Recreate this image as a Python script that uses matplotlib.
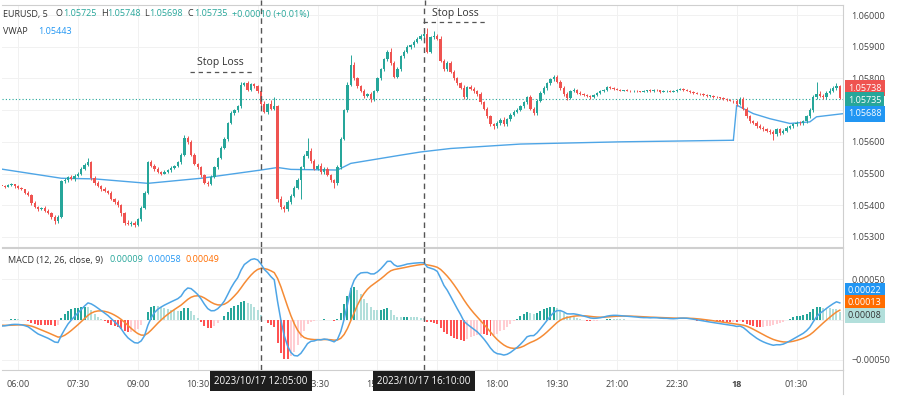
import numpy as np
import matplotlib
matplotlib.use('Agg')
import matplotlib.pyplot as plt
from matplotlib import transforms
from matplotlib.lines import Line2D

plt.rcParams['font.family'] = ['Open Sans', 'DejaVu Sans']

# EURUSD 5 min candles, bar 0 = 06:00, prices in points above 1.05000 (1 pt = 0.00001)
first_bar = -5
first_open_pts = 465
close_pts = [
    462, 458, 463, 466, 460,
    455, 450, 440, 432, 408, 395, 388, 392, 383, 376, 362, 350, 362, 475, 478, 488, 482, 492,
    500, 515, 528, 535, 485, 470, 460, 452, 445, 440, 420, 410, 400, 375, 345, 340, 345, 338,
    355, 390, 440, 535, 525, 515, 505, 500, 505, 510, 518, 525, 535, 560, 612, 600, 560, 530,
    520, 495, 470, 468, 490, 520, 550, 580, 610, 660, 690, 700, 712, 780, 785, 765, 782, 775,
    760, 720, 695, 720, 705, 712, 420, 395, 388, 410, 430, 455, 480, 520, 555, 570, 540, 515,
    525, 505, 515, 495, 480, 470, 520, 610, 700, 780, 842, 800, 775, 760, 745, 750, 735, 760,
    800, 830, 860, 885, 850, 805, 830, 870, 885, 900, 905, 915, 925, 935, 940, 885, 930, 935,
    925, 855, 830, 850, 820, 800, 785, 770, 740, 772, 768, 760, 750, 725, 705, 680, 655, 650,
    660, 670, 655, 672, 685, 695, 700, 712, 725, 740, 705, 690, 730, 755, 770, 785, 798, 805,
    790, 770, 750, 738, 760, 765, 755, 752, 748, 745, 740, 748, 755, 760, 765, 772, 770, 768,
    765, 762, 763, 762, 760, 761, 760, 758, 760, 763, 760, 765, 763, 758, 760, 762, 758, 760,
    765, 768, 765, 762, 757, 755, 752, 750, 748, 745, 745, 742, 740, 738, 735, 733, 730, 728,
    720, 735, 705, 680, 665, 660, 650, 645, 640, 635, 630, 625, 640, 628, 635, 645, 650, 655,
    660, 658, 665, 680, 700, 740, 752, 745, 740, 755, 762, 770, 775, 738,
]
wick_up = [
    4, 3, 5, 3, 2,
    3, 4, 2, 5, 3, 6, 4, 3, 5, 4, 3, 6, 8, 4, 7, 3, 6, 5,
    4, 6, 5, 13, 6, 8, 5, 4, 6, 3, 5, 4, 6, 4, 5, 8, 6, 4,
    5, 6, 4, 5, 8, 4, 6, 3, 5, 4, 6, 3, 5, 4, 9, 7, 5, 6,
    4, 5, 3, 6, 4, 5, 3, 6, 5, 4, 6, 5, 4, 9, 4, 6, 4, 5,
    6, 5, 8, 4, 12, 30, 5, 8, 6, 5, 4, 6, 5, 4, 8, 41, 12, 6,
    5, 8, 4, 6, 5, 4, 6, 5, 4, 8, 31, 10, 6, 5, 8, 4, 6, 5,
    5, 4, 6, 5, 12, 6, 5, 4, 6, 5, 4, 6, 5, 4, 7, 20, 5, 15,
    6, 8, 5, 6, 5, 6, 4, 5, 8, 5, 6, 4, 5, 6, 4, 5, 6, 4,
    6, 5, 8, 4, 5, 4, 6, 5, 4, 5, 8, 6, 5, 4, 6, 5, 4, 5,
    6, 4, 5, 6, 4, 5, 3, 4, 3, 4, 3, 4, 3, 4, 3, 4, 3, 3,
    2, 3, 2, 3, 2, 2, 3, 2, 3, 2, 3, 2, 3, 2, 3, 2, 2, 3,
    3, 2, 3, 2, 3, 2, 3, 2, 3, 2, 3, 2, 3, 2, 3, 4, 2, 3,
    8, 7, 5, 4, 6, 4, 5, 6, 4, 5, 4, 6, 5, 4, 6, 5, 4, 6,
    5, 6, 4, 5, 6, 8, 37, 10, 6, 5, 8, 6, 10, 5,
]
wick_dn = [
    3, 4, 2, 3, 5,
    4, 3, 5, 4, 6, 3, 5, 4, 6, 3, 5, 8, 6, 4, 5, 6, 4, 5,
    3, 4, 5, 3, 6, 5, 4, 6, 3, 5, 4, 6, 5, 8, 6, 4, 5, 6,
    4, 5, 3, 4, 5, 6, 4, 5, 3, 4, 5, 4, 3, 5, 4, 6, 5, 4,
    5, 6, 4, 8, 5, 4, 6, 5, 4, 6, 5, 4, 5, 6, 5, 4, 6, 5,
    5, 6, 4, 8, 5, 4, 10, 6, 9, 5, 6, 4, 5, 60, 6, 5, 6, 5,
    4, 6, 5, 4, 6, 17, 5, 6, 4, 5, 4, 6, 5, 4, 6, 5, 8, 5,
    4, 6, 5, 4, 6, 5, 4, 6, 5, 4, 6, 5, 4, 5, 6, 5, 4, 6,
    5, 4, 6, 5, 4, 6, 5, 4, 6, 5, 4, 6, 5, 4, 5, 6, 4, 8,
    5, 6, 4, 5, 6, 4, 5, 4, 5, 4, 6, 5, 4, 5, 4, 5, 4, 5,
    4, 5, 4, 6, 4, 3, 4, 3, 4, 3, 4, 3, 4, 3, 4, 3, 4, 3,
    2, 3, 2, 2, 3, 2, 3, 2, 2, 3, 2, 3, 2, 3, 2, 3, 2, 2,
    3, 2, 3, 2, 2, 3, 2, 3, 2, 3, 2, 3, 2, 3, 2, 3, 2, 4,
    6, 5, 4, 6, 5, 4, 6, 5, 6, 4, 6, 20, 5, 6, 4, 5, 4, 6,
    5, 4, 6, 5, 4, 6, 5, 4, 6, 5, 4, 5, 6, 4,
]

# VWAP read at some bars (resets at session start, bar 216)
vwap_bar = [-5, 13, 23, 39, 55, 73, 78, 82, 96, 100, 115, 121, 130, 151, 181, 215,
            216, 221, 226, 232, 238, 240, 248]
vwap_pts = [514, 485, 483, 469, 485, 511, 519, 513, 511, 532, 558, 568, 579, 593, 600, 605,
            716, 689, 673, 658, 663, 679, 689]

macd_start = -0.00008
signal_start = -0.00007

time_ticks = [0, 18, 36, 54, 72, 90, 108, 126, 144, 162, 180, 198, 216, 234]
time_labels = ['06:00', '07:30', '09:00', '10:30', '12:00', '13:30', '15:00', '16:30',
               '18:00', '19:30', '21:00', '22:30', '18', '01:30']
price_ticks = [1.053, 1.054, 1.055, 1.056, 1.057, 1.058, 1.059, 1.060]
macd_ticks = [-0.0005, 0.0, 0.0005]

cursor_bars = [73, 122]
cursor_labels = ['2023/10/17 12:05:00', '2023/10/17 16:10:00']

GREEN = '#26a69a'
RED = '#ef5350'
BLUE = '#4ea5e6'
ORANGE = '#f58b35'


def ema(values, span, start):
    a = 2.0 / (span + 1)
    out = np.empty(len(values))
    prev = start
    for k, v in enumerate(values):
        if k:
            prev = prev + a * (v - prev)
        out[k] = prev
    return out


x = np.arange(first_bar, first_bar + len(close_pts))
close = 1.05 + np.array(close_pts) / 1e5
open_ = np.r_[1.05 + first_open_pts / 1e5, close[:-1]]
high = np.maximum(open_, close) + np.array(wick_up) / 1e5
low = np.minimum(open_, close) - np.array(wick_dn) / 1e5
rising = close >= open_
ccol = np.where(rising, GREEN, RED)

ema_fast = ema(close, 12, close[0])
ema_slow = ema(close, 26, close[0] - macd_start)
macd = ema_fast - ema_slow
signal = ema(macd, 9, signal_start)
hist = macd - signal
prev_hist = np.r_[hist[0], hist[:-1]]
hcol = np.where(hist >= 0,
                np.where(hist >= prev_hist, '#26a69a', '#b2dfdb'),
                np.where(hist < prev_hist, '#ff5252', '#ffcdd2'))

W, H = 900, 398
fig = plt.figure(figsize=(W / 100, H / 100), dpi=100)
fig.patch.set_facecolor('white')


def fx(px):
    return px / W


def fy(py):
    return 1 - py / H


ax = fig.add_axes([fx(2), fy(247), fx(843) - fx(2), fy(5) - fy(247)])
ax2 = fig.add_axes([fx(2), fy(370), fx(843) - fx(2), fy(248) - fy(370)], sharex=ax)

xlim = (-4.84, 247.96)
for a in (ax, ax2):
    a.set_xlim(*xlim)
    a.set_xticks(time_ticks)
    a.yaxis.tick_right()
    a.tick_params(length=0, labelsize=6.5, labelcolor='#444', pad=6)
    a.grid(True, color='#f1f1f1', lw=0.7)
    a.set_axisbelow(True)
    a.spines['left'].set_visible(False)
    for s in ('right', 'top', 'bottom'):
        a.spines[s].set_color('#cfcfcf')
        a.spines[s].set_linewidth(0.8)

# price pane
ax.set_ylim(1.05268, 1.06032)
ax.set_yticks(price_ticks)
ax.set_yticklabels([f'{v:.5f}' for v in price_ticks])
ax.tick_params(labelbottom=False)
ax.vlines(x, low, high, colors=ccol, lw=0.7, zorder=3)
ax.bar(x, np.maximum(np.abs(close - open_), 0.00002), bottom=np.minimum(open_, close),
       width=0.7, color=ccol, lw=0, zorder=3)
ax.plot(vwap_bar[:16], 1.05 + np.array(vwap_pts[:16]) / 1e5, color=BLUE, lw=1.0, zorder=2)
ax.plot(vwap_bar[15:], 1.05 + np.array(vwap_pts[15:]) / 1e5, color=BLUE, lw=1.0, zorder=2)
ax.axhline(1.05735, color=GREEN, lw=0.8, ls=(0, (1, 2)), zorder=1)

# stop loss marks
ax.text(60.7, 1.05852, 'Stop Loss', ha='center', va='center', fontsize=7.5, color='#333')
ax.plot([51.7, 70.3], [1.05820, 1.05820], color='#555', lw=0.9, ls=(0, (3.5, 3)))
ax.text(131.3, 1.06006, 'Stop Loss', ha='center', va='center', fontsize=7.5, color='#333')
ax.plot([121.7, 141.2], [1.05978, 1.05978], color='#555', lw=0.9, ls=(0, (3.5, 3)))

# macd pane
ax2.set_ylim(-0.000625, 0.000888)
ax2.set_yticks(macd_ticks)
ax2.set_yticklabels(['\u22120.00050', '0.00000', '0.00050'])
ax2.set_xticklabels(time_labels)
ax2.tick_params(axis='x', pad=7)
for lab in ax2.get_xticklabels():
    if lab.get_text() == '18':
        lab.set_fontweight('bold')
ax2.bar(x, hist, width=0.6, color=hcol, lw=0, zorder=2)
ax2.plot(x, signal, color=ORANGE, lw=1.1, zorder=3)
ax2.plot(x, macd, color=BLUE, lw=1.1, zorder=4)

# cursor lines and date boxes
for b, lab in zip(cursor_bars, cursor_labels):
    for a in (ax, ax2):
        a.axvline(b, color='#555', lw=1.0, ls=(0, (4, 3)), zorder=5)
    tr = transforms.blended_transform_factory(ax2.transData, ax2.transAxes)
    ax2.text(b, -0.092, lab, transform=tr, ha='center', va='center', fontsize=7,
             color='white', zorder=10, clip_on=False,
             bbox=dict(boxstyle='square,pad=0.45', fc='#1e1e1e', ec='none'))
fig.add_artist(Line2D([fx(261), fx(261)], [fy(5), fy(0)], color='#555', lw=1.0, ls=(0, (4, 3))))
fig.add_artist(Line2D([fx(425), fx(425)], [fy(5), fy(0)], color='#555', lw=1.0, ls=(0, (4, 3))))
fig.add_artist(Line2D([fx(843), fx(843)], [fy(370), fy(394)], color='#cfcfcf', lw=0.8))


# price scale tags
def tag(a, yval, text, fc, tc='white', shift_px=0):
    tr = transforms.blended_transform_factory(a.transAxes, a.transData)
    a.annotate(text, xy=(1.0, yval), xycoords=tr, xytext=(3.5, shift_px * 0.72),
               textcoords='offset points', ha='left', va='center', fontsize=6.5,
               color=tc, zorder=10, annotation_clip=False,
               bbox=dict(boxstyle='square,pad=0.35', fc=fc, ec='none'))


tag(ax, 1.05738, '1.05738', RED, shift_px=10)
tag(ax, 1.05735, '1.05735', GREEN, shift_px=-1)
tag(ax, 1.05688, '1.05688', '#2196f3')
tag(ax2, 0.00022, '0.00022', '#2196f3', shift_px=11)
tag(ax2, 0.00013, '0.00013', '#ff6d00', shift_px=6.5)
tag(ax2, 0.00008, '0.00008', '#b2dfdb', tc='#333', shift_px=-2.5)


# legend texts
def seg(px, py, s, c, size=6.5):
    fig.text(fx(px), fy(py), s, color=c, fontsize=size, ha='left', va='center')


seg(3, 14, 'EURUSD, 5', '#333')
seg(56, 14, 'O', '#333')
seg(63, 14, '1.05725', GREEN)
seg(101, 14, 'H', '#333')
seg(107, 14, '1.05748', GREEN)
seg(144, 14, 'L', '#333')
seg(149, 14, '1.05698', GREEN)
seg(187, 14, 'C', '#333')
seg(194, 14, '1.05735', GREEN)
seg(232, 14, '+0.00010 (+0.01%)', GREEN)
seg(3, 31, 'VWAP', '#333')
seg(38, 31, '1.05443', '#2196f3')
seg(8, 260, 'MACD (12, 26, close, 9)', '#333')
seg(110, 260, '0.00009', GREEN)
seg(148, 260, '0.00058', '#2196f3')
seg(185, 260, '0.00049', '#ff6d00')

fig.savefig('out.png', dpi=100, facecolor='white')
